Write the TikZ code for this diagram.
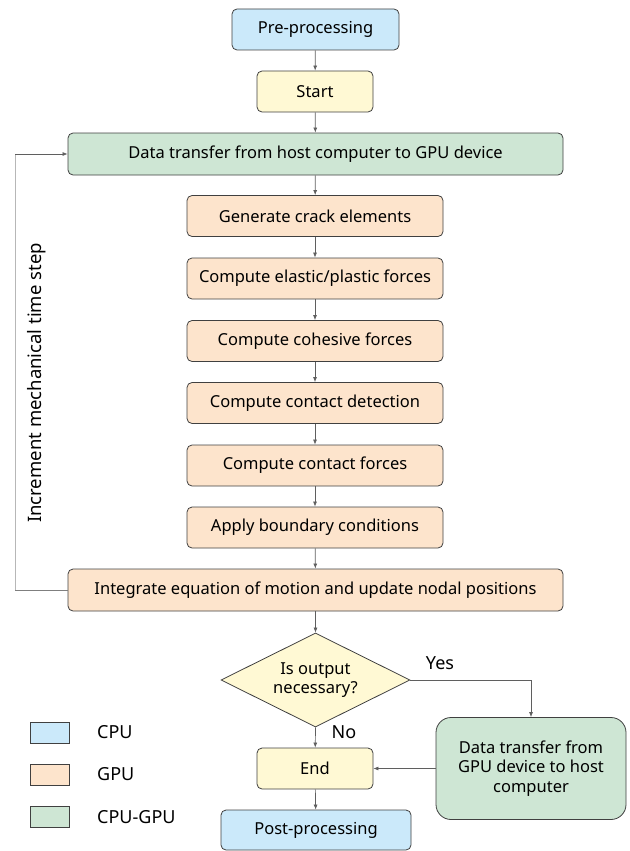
\documentclass[tikz,border=0pt]{standalone}
\usepackage{fontspec}
\setmainfont{Noto Sans}
\usetikzlibrary{shapes.geometric,arrows.meta}

\definecolor{cpucol}{RGB}{203,233,250}
\definecolor{gpucol}{RGB}{253,228,204}
\definecolor{bothcol}{RGB}{206,230,212}
\definecolor{termcol}{RGB}{255,249,212}
\definecolor{edgecol}{RGB}{64,64,64}
\definecolor{linecol}{RGB}{95,95,95}

\begin{document}
\begin{tikzpicture}[x=1pt,y=-1pt,
  box/.style={draw=edgecol,line width=0.8pt,rounded corners=5pt,inner sep=0pt,
    minimum height=41pt,font=\fontsize{16.5}{19.5}\selectfont},
  gpubox/.style={box,fill=gpucol,minimum width=256pt},
  flow/.style={draw=linecol,line width=0.7pt,-{Latex[length=5pt,width=4pt]}},
  bigtext/.style={font=\fontsize{18}{21}\selectfont},
  key/.style={draw=edgecol,line width=0.8pt,minimum width=39pt,minimum height=21pt,inner sep=0pt}]
\useasboundingbox (0,0) rectangle (629,851);

% main column
\node [box,fill=cpucol,minimum width=167pt] (pre) at (315.5,29.5) {Pre-processing};
\node [box,fill=termcol,minimum width=116pt] (start) at (315,91.5) {Start};
\node [box,fill=bothcol,minimum width=495pt,minimum height=42pt] (hostgpu) at (315.5,154) {Data transfer from host computer to GPU device};
\node [gpubox] (crack) at (315,216) {Generate crack elements};
\node [gpubox] (elast) at (315,278.5) {Compute elastic/plastic forces};
\node [gpubox] (cohes) at (315,341) {Compute cohesive forces};
\node [gpubox] (detect) at (315,403) {Compute contact detection};
\node [gpubox] (contact) at (315,465.5) {Compute contact forces};
\node [gpubox] (bound) at (315,527.5) {Apply boundary conditions};
\node [box,fill=gpucol,minimum width=495pt,minimum height=42pt] (integ) at (315.5,590) {Integrate equation of motion and update nodal positions};
\node [diamond,aspect=2,draw=edgecol,line width=0.8pt,fill=termcol,inner sep=0pt,
  minimum width=189pt,minimum height=94pt,align=center,
  font=\fontsize{16.5}{19}\selectfont] (dec) at (315.5,680) {Is output\\necessary?};
\node [box,fill=termcol,minimum width=116pt] (end) at (315,768.5) {End};
\node [box,fill=cpucol,minimum width=190pt,minimum height=40pt] (post) at (316,830) {Post-processing};
\node [box,fill=bothcol,rounded corners=15pt,minimum width=190pt,minimum height=102pt,
  align=center,font=\fontsize{16.5}{19.5}\selectfont] (gpuhost) at (531,768.5) {Data transfer from\\GPU device to host\\computer};

\draw [flow] (pre) -- (start);
\draw [flow] (start) -- (hostgpu);
\draw [flow] (hostgpu) -- (crack);
\foreach \a/\b in {crack/elast,elast/cohes,cohes/detect,detect/contact,contact/bound,bound/integ,integ/dec}
  \draw [flow] (\a) -- (\b);
\draw [flow] (dec.east) -| (gpuhost.north);
\draw [flow] (dec.south) -- (end);
\draw [flow] (gpuhost.west) -- (end.east);
\draw [flow] (end) -- (post);

\node [bigtext] (yes) at (440,663) {Yes};
\node [bigtext] (no) at (344,732) {No};

% time step loop
\coordinate (lbot) at (15,590);
\coordinate (ltop) at (15,154);
\draw [draw=linecol!80,line width=0.7pt] (integ.west) -- (lbot);
\draw [draw=linecol!45,line width=0.7pt] (lbot) -- (ltop);
\draw [flow] (ltop) -- (hostgpu.west);
\node [rotate=90,font=\fontsize{18.5}{22}\selectfont] (steplabel) at (37,383) {Increment mechanical time step};

% legend
\node [key,fill=cpucol] (kcpu) at (49.5,732.5) {};
\node [key,fill=gpucol] (kgpu) at (49.5,774.5) {};
\node [key,fill=bothcol] (kboth) at (49.5,817) {};
\node [anchor=west,inner sep=0pt,bigtext] at (97,732.5) {CPU};
\node [anchor=west,inner sep=0pt,bigtext] at (97,774.5) {GPU};
\node [anchor=west,inner sep=0pt,bigtext] at (97,817) {CPU-GPU};
\end{tikzpicture}
\end{document}
